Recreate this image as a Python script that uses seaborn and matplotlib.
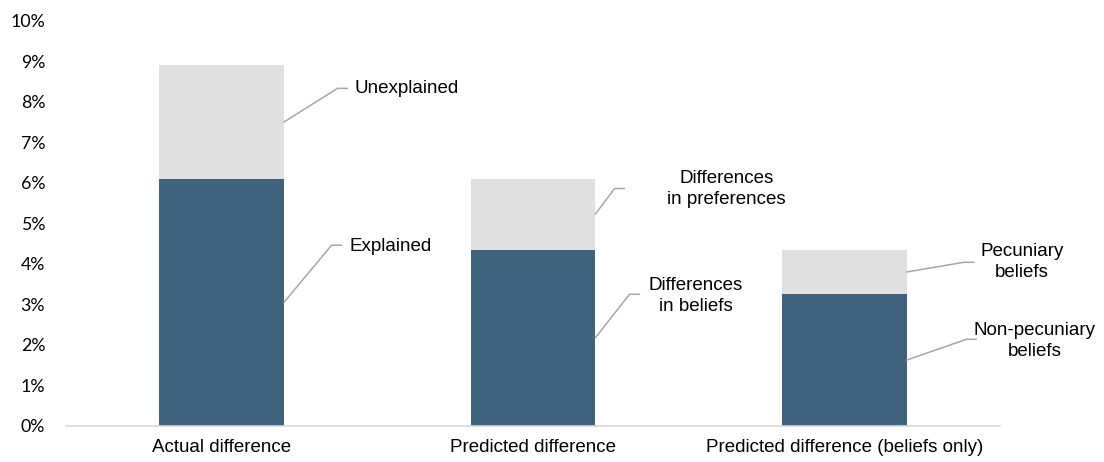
import matplotlib
matplotlib.use("Agg")
import matplotlib.pyplot as plt
import seaborn as sns
from matplotlib.ticker import FuncFormatter

# Dados (em %)
categorias = ["Actual difference", "Predicted difference", "Predicted difference (beliefs only)"]
parte_baixo = [6.1, 4.35, 3.25]      # Explained / beliefs / non-pecuniary
parte_cima = [2.8, 1.75, 1.1]        # Unexplained / preferences / pecuniary
rotulos_baixo = ["Explained", "Differences\nin beliefs", "Non-pecuniary\nbeliefs"]
rotulos_cima = ["Unexplained", "Differences\nin preferences", "Pecuniary\nbeliefs"]
totais = [b + c for b, c in zip(parte_baixo, parte_cima)]

COR_ESCURA = "#3F637C"
COR_CLARA = "#E0E0E0"
COR_LINHA = "#A6A6A6"
LARGURA = 0.4

sns.set_theme(style="white")
plt.rcParams["font.family"] = ["Liberation Sans", "DejaVu Sans"]

fig = plt.figure(figsize=(11.04, 4.62), dpi=100)
ax = fig.add_axes([66 / 1104, 1 - 426 / 462, (1000 - 66) / 1104, (426 - 20.7) / 462])

sns.barplot(x=categorias, y=totais, color=COR_CLARA, saturation=1, width=LARGURA,
            linewidth=0, edgecolor="none", ax=ax)
sns.barplot(x=categorias, y=parte_baixo, color=COR_ESCURA, saturation=1, width=LARGURA,
            linewidth=0, edgecolor="none", ax=ax)

ax.set_xlim(-0.5, 2.5)
ax.set_ylim(0, 10)
ax.set_yticks(range(0, 11))
ax.yaxis.set_major_formatter(FuncFormatter(lambda v, p: f"{v:.0f}%"))
for lbl in ax.get_yticklabels():
    lbl.set_fontfamily(["Lato", "DejaVu Sans"])
    lbl.set_fontsize(12.8)
ax.tick_params(axis="y", length=0, pad=15, colors="black")
ax.tick_params(axis="x", length=0, pad=9, labelsize=13.5, colors="black")
ax.set_xlabel("")
ax.set_ylabel("")
for lado in ["top", "right", "left"]:
    ax.spines[lado].set_visible(False)
ax.spines["bottom"].set_color("#D9D9D9")
ax.spines["bottom"].set_linewidth(1.2)

# Rótulos com linhas de chamada: (cotovelo x, cotovelo y, fim x, texto x, texto y, alinhamento)
layout_cima = [(0.372, 8.33, 0.404, 0.427, 8.32, "left"),
               (1.262, 5.86, 1.294, 1.621, 5.84, "center"),
               (2.385, 4.04, 2.417, 2.571, 4.04, "center")]
layout_baixo = [(0.353, 4.46, 0.385, 0.411, 4.43, "left"),
                (1.310, 3.25, 1.342, 1.522, 3.20, "center"),
                (2.392, 2.14, 2.424, 2.610, 2.09, "center")]

for i in range(len(categorias)):
    borda = i + LARGURA / 2
    pares = [(parte_baixo[i] + totais[i]) / 2, rotulos_cima[i], layout_cima[i]], \
            [parte_baixo[i] / 2, rotulos_baixo[i], layout_baixo[i]]
    for y_meio, texto, (ex, ey, fx, tx, ty, ha) in pares:
        ax.plot([borda, ex, fx], [y_meio, ey, ey], color=COR_LINHA, lw=1.1,
                clip_on=False, solid_joinstyle="miter")
        ax.text(tx, ty, texto, ha=ha, va="center", fontsize=13.5,
                linespacing=1.28, color="black")

plt.savefig("out.png", dpi=100)
